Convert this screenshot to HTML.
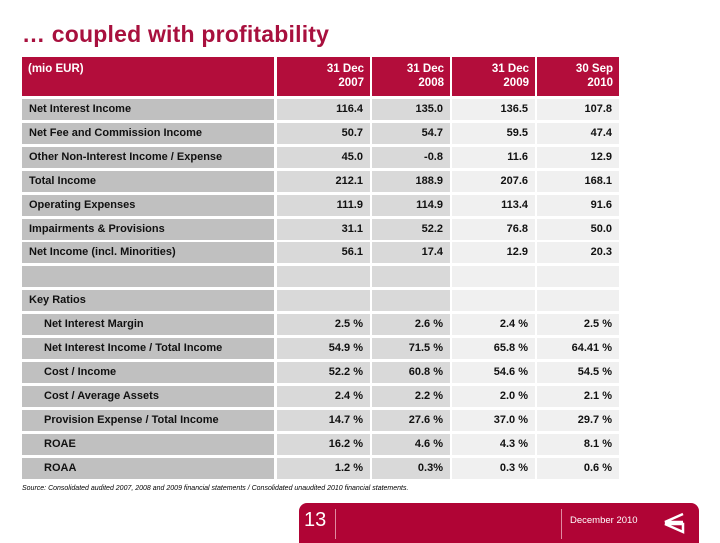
<!DOCTYPE html>
<html><head><meta charset="utf-8"><style>
body{margin:0;width:720px;height:540px;background:#fff;position:relative;overflow:hidden;font-family:"Liberation Sans",Arial,sans-serif}
.a{position:absolute;box-sizing:border-box}
.title{left:22px;top:21px;font-size:23px;font-weight:bold;color:#a8103e;white-space:nowrap;letter-spacing:0.2px}
.h{background:#b30d3b;color:#fff;font-size:11.5px;font-weight:bold;top:57px;height:39px;line-height:14px;padding:5px 6px}
.c{font-size:11px;font-weight:bold;color:#111;height:21px;line-height:21px;padding:0 7px;white-space:nowrap}
.r{text-align:right}
.src{left:22px;top:485px;font-size:7px;font-style:italic;color:#000;white-space:nowrap}
.foot{left:299px;top:503px;width:400px;height:40px;background:#b00435;border-radius:8px 8px 0 0}
</style></head><body>
<div class="a title">… coupled with profitability</div>
<div id="tbl"></div>
<div class="a src">Source: Consolidated audited 2007, 2008 and 2009 financial statements / Consolidated unaudited 2010 financial statements.</div>
<div class="a foot">
<div class="a" style="left:5px;top:6px;color:#fff;font-size:20px">13</div>
<div class="a" style="left:36px;top:6px;width:1px;height:30px;background:#e08aa0"></div>
<div class="a" style="left:262px;top:6px;width:1px;height:30px;background:#e08aa0"></div>
<div class="a" style="left:271px;top:12px;color:#fff;font-size:9.5px">December 2010</div>
<svg class="a" style="left:360px;top:9px" width="26" height="22"><path d="M24 2 L6 10 L24 10 M6 12 L24 12 L24 20 Z" fill="none" stroke="#fff" stroke-width="2.5"/></svg>
</div>
<script>
const headers=["31 Dec<br>2007","31 Dec<br>2008","31 Dec<br>2009","30 Sep<br>2010"];
const labels=["Net Interest Income","Net Fee and Commission Income","Other Non-Interest Income / Expense","Total Income","Operating Expenses","Impairments & Provisions","Net Income (incl. Minorities)","","Key Ratios","Net Interest Margin","Net Interest Income / Total Income","Cost / Income","Cost / Average Assets","Provision Expense / Total Income","ROAE","ROAA"];
const indent=[0,0,0,0,0,0,0,0,0,1,1,1,1,1,1,1];
const v2007=["116.4","50.7","45.0","212.1","111.9","31.1","56.1","","","2.5 %","54.9 %","52.2 %","2.4 %","14.7 %","16.2 %","1.2 %"];
const v2008=["135.0","54.7","-0.8","188.9","114.9","52.2","17.4","","","2.6 %","71.5 %","60.8 %","2.2 %","27.6 %","4.6 %","0.3%"];
const v2009=["136.5","59.5","11.6","207.6","113.4","76.8","12.9","","","2.4 %","65.8 %","54.6 %","2.0 %","37.0 %","4.3 %","0.3 %"];
const v2010=["107.8","47.4","12.9","168.1","91.6","50.0","20.3","","","2.5 %","64.41 %","54.5 %","2.1 %","29.7 %","8.1 %","0.6 %"];
const cols=[[v2007,'#d9d9d9'],[v2008,'#d9d9d9'],[v2009,'#f0f0f0'],[v2010,'#f0f0f0']];
const xs=[[277,93],[372,78],[452,83],[537,82]];
const T=document.getElementById('tbl');
function add(cls,x,y,w,txt,bg,name){const d=document.createElement('div');d.className='a '+cls;d.style.left=x+'px';d.style.top=y+'px';d.style.width=w+'px';if(bg)d.style.background=bg;d.innerHTML=txt;


T.appendChild(d);return d;}
add('h',22,57,252,'(mio EUR)',null,'header-unit');
headers.forEach((h,i)=>{add('h r',xs[i][0],57,xs[i][1],h,null,'column-header');});
labels.forEach((l,r)=>{const y=99+r*23.9;
 const d=add('c',22,y,252,l,'#c0c0c0','row-label');if(indent[r])d.style.paddingLeft='22px';
 cols.forEach((c,i)=>add('c r',xs[i][0],y,xs[i][1],c[0][r],c[1],'table-cell'));});
</script>
</body></html>
